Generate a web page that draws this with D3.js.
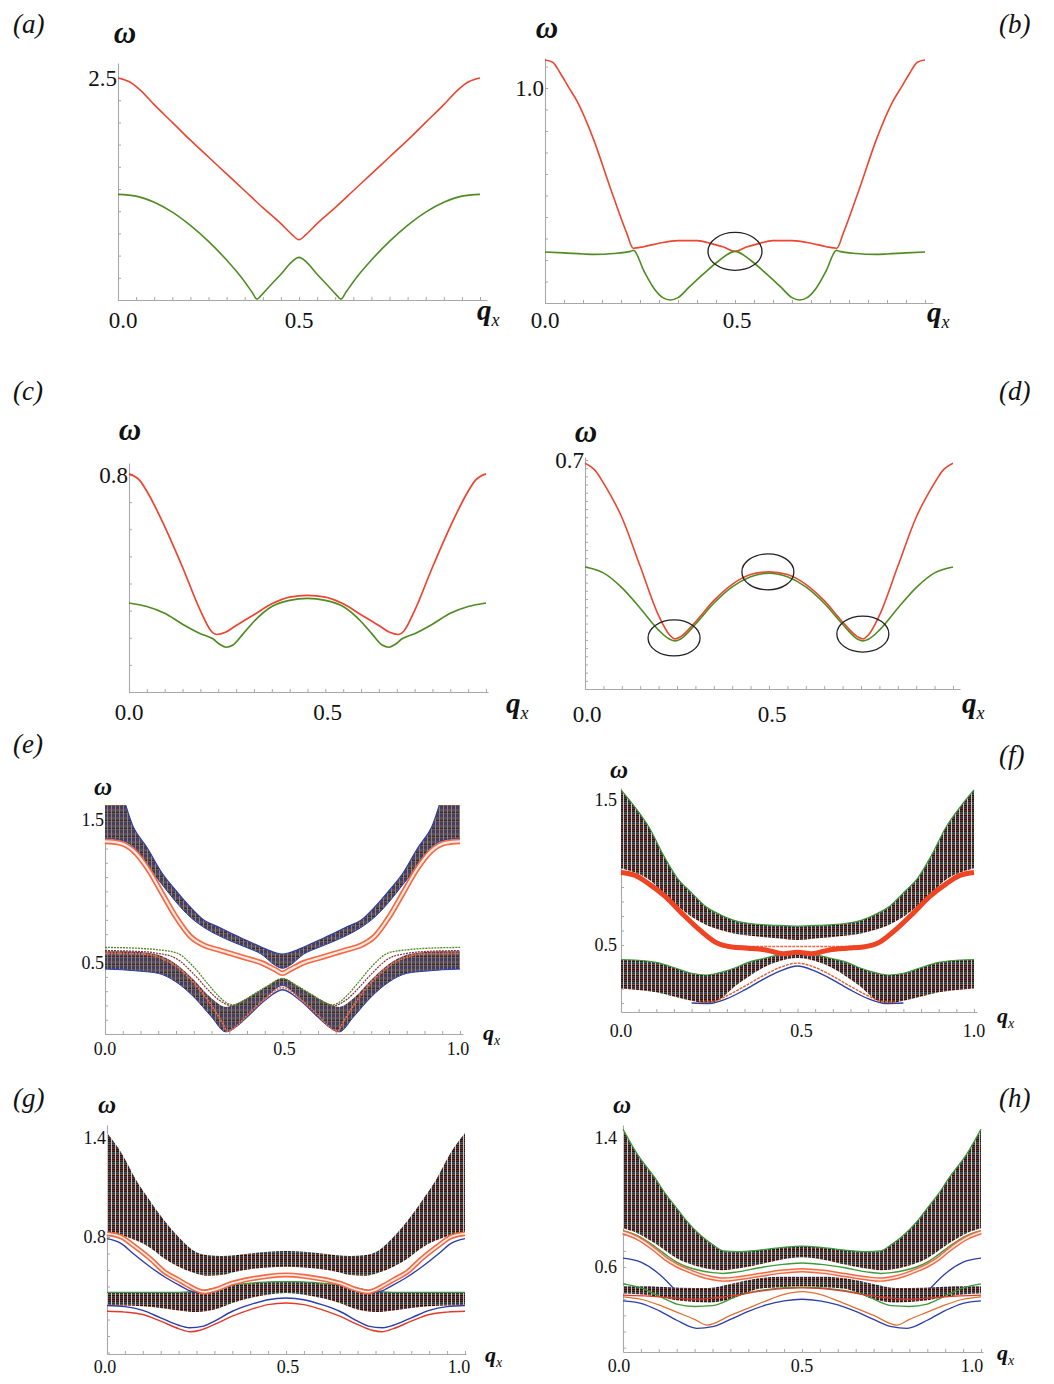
<!DOCTYPE html>
<html>
<head>
<meta charset="utf-8">
<script src="https://cdn.jsdelivr.net/npm/d3@7"></script>
<style>
  body { margin: 0; background: #fff; }
  svg text { font-family: "Liberation Serif", "DejaVu Serif", serif; fill: #111; }
</style>
</head>
<body>
<svg id="fig" width="1054" height="1384"></svg>
<script>
// ---------- panel (a) ----------
var aRed = [[0,2.5],[0.03,2.46],[0.06,2.37],[0.1,2.2],[0.15,2.0],[0.2,1.8],[0.25,1.61],[0.3,1.42],[0.35,1.23],[0.4,1.04],[0.45,0.86],[0.48,0.74],[0.5,0.68],
            [0.52,0.74],[0.55,0.86],[0.6,1.04],[0.65,1.23],[0.7,1.42],[0.75,1.61],[0.8,1.8],[0.85,2.0],[0.9,2.2],[0.94,2.37],[0.97,2.46],[1,2.5]];
var aGreen = [[0,1.19],[0.05,1.17],[0.1,1.1],[0.15,0.99],[0.2,0.84],[0.25,0.66],[0.3,0.45],[0.34,0.26],[0.37,0.09],[0.384,0.01],[0.395,0.05],[0.42,0.16],[0.45,0.29],[0.48,0.43],[0.5,0.48],
              [0.52,0.43],[0.55,0.29],[0.58,0.16],[0.605,0.05],[0.616,0.01],[0.63,0.09],[0.66,0.26],[0.7,0.45],[0.75,0.66],[0.8,0.84],[0.85,0.99],[0.9,1.1],[0.95,1.17],[1,1.19]];

// ---------- panel (b) ----------
var bRed = [[0,1.13],[0.02,1.12],[0.04,1.07],[0.06,1.01],[0.084,0.94],[0.128,0.76],[0.171,0.54],[0.215,0.325],[0.232,0.255],[0.26,0.262],[0.3,0.278],[0.35,0.29],[0.4,0.29],[0.44,0.275],[0.47,0.26],[0.5,0.24],
            [0.53,0.26],[0.56,0.275],[0.6,0.29],[0.65,0.29],[0.7,0.278],[0.74,0.262],[0.768,0.255],[0.785,0.325],[0.829,0.54],[0.872,0.76],[0.916,0.94],[0.94,1.01],[0.96,1.07],[0.98,1.12],[1,1.13]];
var bGreen = [[0,0.237],[0.05,0.233],[0.1,0.228],[0.13,0.226],[0.18,0.23],[0.225,0.24],[0.233,0.245],[0.26,0.15],[0.286,0.07],[0.31,0.025],[0.33,0.014],[0.35,0.025],[0.38,0.075],[0.42,0.14],[0.46,0.2],[0.5,0.24],
              [0.54,0.2],[0.58,0.14],[0.62,0.075],[0.65,0.025],[0.67,0.014],[0.69,0.025],[0.714,0.07],[0.74,0.15],[0.767,0.245],[0.775,0.24],[0.82,0.23],[0.87,0.226],[0.9,0.228],[0.95,0.233],[1,0.237]];
var bCircles = [[0.5,0.24]];

// ---------- panel (c) ----------
var cRed = [[0,0.804],[0.03,0.78],[0.05,0.74],[0.1,0.61],[0.15,0.46],[0.2,0.3],[0.23,0.225],[0.246,0.212],[0.27,0.22],[0.3,0.245],[0.35,0.285],[0.4,0.325],[0.45,0.35],[0.5,0.356],
            [0.55,0.35],[0.6,0.325],[0.65,0.285],[0.7,0.245],[0.73,0.22],[0.754,0.212],[0.77,0.225],[0.8,0.3],[0.85,0.46],[0.9,0.61],[0.95,0.74],[0.97,0.78],[1,0.804]];
var cGreen = [[0,0.328],[0.05,0.315],[0.1,0.29],[0.15,0.25],[0.2,0.215],[0.235,0.196],[0.255,0.175],[0.272,0.165],[0.29,0.172],[0.32,0.215],[0.35,0.26],[0.4,0.315],[0.45,0.338],[0.5,0.345],
              [0.55,0.338],[0.6,0.315],[0.65,0.26],[0.68,0.215],[0.71,0.172],[0.728,0.165],[0.745,0.175],[0.765,0.196],[0.8,0.215],[0.85,0.25],[0.9,0.29],[0.95,0.315],[1,0.328]];

// ---------- panel (d) ----------
var dRed = [[0,0.69],[0.03,0.665],[0.05,0.63],[0.1,0.525],[0.15,0.375],[0.2,0.225],[0.23,0.165],[0.245,0.153],[0.26,0.16],[0.3,0.205],[0.35,0.27],[0.4,0.32],[0.45,0.35],[0.5,0.358],
            [0.55,0.35],[0.6,0.32],[0.65,0.27],[0.7,0.205],[0.74,0.16],[0.755,0.153],[0.77,0.165],[0.8,0.225],[0.85,0.375],[0.9,0.525],[0.95,0.63],[0.97,0.665],[1,0.69]];
var dGreen = [[0,0.373],[0.05,0.355],[0.1,0.31],[0.15,0.247],[0.2,0.18],[0.23,0.152],[0.245,0.147],[0.26,0.153],[0.3,0.198],[0.35,0.262],[0.4,0.312],[0.45,0.343],[0.5,0.354],
              [0.55,0.343],[0.6,0.312],[0.65,0.262],[0.7,0.198],[0.74,0.153],[0.755,0.147],[0.77,0.152],[0.8,0.18],[0.85,0.247],[0.9,0.31],[0.95,0.355],[1,0.373]];
var dCircles = [[0.242,0.156],[0.497,0.358],[0.755,0.168]];

// ---------- panel (e) ----------
var eUpQ   = [0,0.04,0.08,0.12,0.16,0.2,0.24,0.28,0.32,0.36,0.4,0.44,0.48,0.5,0.52,0.56,0.6,0.64,0.68,0.72,0.76,0.8,0.84,0.88,0.92,0.96,1];
var eUpTop = [1.8,1.72,1.45,1.3,1.13,1.005,0.89,0.795,0.75,0.7,0.655,0.61,0.57,0.56,0.57,0.61,0.655,0.7,0.75,0.795,0.89,1.005,1.13,1.3,1.45,1.72,1.8];
var eUpBot = [1.37,1.36,1.31,1.175,1.05,0.925,0.82,0.745,0.69,0.645,0.605,0.56,0.48,0.46,0.48,0.56,0.605,0.645,0.69,0.745,0.82,0.925,1.05,1.175,1.31,1.36,1.37];
var eOrangeUp = [1.35,1.34,1.285,1.16,0.99,0.82,0.685,0.62,0.59,0.56,0.53,0.5,0.45,0.425,0.45,0.5,0.53,0.56,0.59,0.62,0.685,0.82,0.99,1.16,1.285,1.34,1.35];
var eLoQ   = [0,0.05,0.1,0.15,0.2,0.25,0.3,0.34,0.38,0.42,0.46,0.5,0.54,0.58,0.62,0.66,0.7,0.75,0.8,0.85,0.9,0.95,1];
var eLoTop = [0.58,0.58,0.575,0.555,0.49,0.38,0.25,0.19,0.225,0.28,0.34,0.39,0.34,0.28,0.225,0.19,0.25,0.38,0.49,0.555,0.575,0.58,0.58];
var eLoBot = [0.455,0.45,0.44,0.425,0.365,0.26,0.12,0.015,0.07,0.17,0.27,0.34,0.27,0.17,0.07,0.015,0.12,0.26,0.365,0.425,0.44,0.45,0.455];
var eGreen = [[0,0.607],[0.1,0.6],[0.15,0.59],[0.2,0.57],[0.25,0.47],[0.29,0.35],[0.32,0.265],[0.345,0.215],[0.36,0.205],[0.42,0.28],[0.46,0.34],[0.5,0.39],
              [0.54,0.34],[0.58,0.28],[0.64,0.205],[0.655,0.215],[0.68,0.265],[0.71,0.35],[0.75,0.47],[0.8,0.57],[0.85,0.59],[0.9,0.6],[1,0.607]];
var eDarkRed = [[0,0.585],[0.1,0.578],[0.15,0.565],[0.2,0.53],[0.25,0.42],[0.29,0.31],[0.32,0.24],[0.35,0.2],[0.36,0.195],[0.5,null],
                [0.64,0.195],[0.65,0.2],[0.68,0.24],[0.71,0.31],[0.75,0.42],[0.8,0.53],[0.85,0.565],[0.9,0.578],[1,0.585]];
var eOrangeLo = [[0,0.565],[0.1,0.562],[0.15,0.54],[0.2,0.475],[0.25,0.36],[0.3,0.2],[0.33,0.08],[0.345,0.02],[0.37,0.055],[0.4,0.13],[0.45,0.245],[0.5,0.325],
                 [0.55,0.245],[0.6,0.13],[0.63,0.055],[0.655,0.02],[0.67,0.08],[0.7,0.2],[0.75,0.36],[0.8,0.475],[0.85,0.54],[0.9,0.562],[1,0.565]];
var eBlue = [[0.36,0.04],[0.4,0.12],[0.45,0.235],[0.5,0.31],[0.55,0.235],[0.6,0.12],[0.64,0.04]];

// ---------- panel (f) ----------
var fUpQ   = [0,0.04,0.08,0.12,0.16,0.2,0.24,0.28,0.32,0.36,0.4,0.45,0.5,0.55,0.6,0.64,0.68,0.72,0.76,0.8,0.84,0.88,0.92,0.96,1];
var fUpTop = [1.57,1.45,1.31,1.12,0.96,0.86,0.765,0.71,0.67,0.65,0.64,0.635,0.63,0.635,0.64,0.65,0.67,0.71,0.765,0.86,0.96,1.12,1.31,1.45,1.57];
var fUpBot = [1.03,1.0,0.95,0.86,0.77,0.695,0.64,0.605,0.58,0.565,0.555,0.545,0.535,0.545,0.555,0.565,0.58,0.605,0.64,0.695,0.77,0.86,0.95,1.0,1.03];
var fRed = [[0,1.0],[0.04,0.98],[0.077,0.925],[0.125,0.835],[0.172,0.72],[0.22,0.61],[0.267,0.52],[0.314,0.486],[0.36,0.478],[0.41,0.466],[0.46,0.44],[0.5,0.45],
            [0.54,0.44],[0.59,0.466],[0.64,0.478],[0.686,0.486],[0.733,0.52],[0.78,0.61],[0.828,0.72],[0.875,0.835],[0.923,0.925],[0.96,0.98],[1,1.0]];
var fDash = [[0.27,0.505],[0.32,0.492],[0.4,0.49],[0.5,0.49],[0.6,0.49],[0.68,0.492],[0.73,0.505]];
var fLoQ   = [0,0.05,0.1,0.15,0.2,0.24,0.28,0.32,0.36,0.4,0.45,0.5,0.55,0.6,0.64,0.68,0.72,0.76,0.8,0.85,0.9,0.95,1];
var fLoTop = [0.4,0.395,0.38,0.345,0.305,0.293,0.31,0.34,0.38,0.405,0.43,0.435,0.43,0.405,0.38,0.34,0.31,0.293,0.305,0.345,0.38,0.395,0.4];
var fLoBot = [0.2,0.19,0.175,0.145,0.115,0.098,0.125,0.21,0.28,0.34,0.39,0.41,0.39,0.34,0.28,0.21,0.125,0.098,0.115,0.145,0.175,0.19,0.2];
var fBlue = [[0.2,0.1],[0.25,0.097],[0.3,0.13],[0.35,0.19],[0.4,0.26],[0.45,0.32],[0.5,0.355],[0.55,0.32],[0.6,0.26],[0.65,0.19],[0.7,0.13],[0.75,0.097],[0.8,0.1]];
var fOrange = [[0.22,0.105],[0.26,0.11],[0.3,0.15],[0.35,0.215],[0.4,0.285],[0.45,0.345],[0.5,0.375],[0.55,0.345],[0.6,0.285],[0.65,0.215],[0.7,0.15],[0.74,0.11],[0.78,0.105]];

// ---------- panel (g) ----------
var gUpQ   = [0,0.04,0.08,0.12,0.16,0.2,0.24,0.28,0.32,0.36,0.4,0.45,0.5,0.55,0.6,0.64,0.68,0.72,0.76,0.8,0.84,0.88,0.92,0.96,1];
var gUpTop = [1.43,1.31,1.15,1.02,0.9,0.8,0.72,0.69,0.685,0.69,0.7,0.71,0.715,0.71,0.7,0.69,0.685,0.69,0.72,0.8,0.9,1.02,1.15,1.31,1.43];
var gUpBot = [0.83,0.81,0.78,0.735,0.67,0.62,0.585,0.565,0.57,0.59,0.605,0.615,0.62,0.615,0.605,0.59,0.57,0.565,0.585,0.62,0.67,0.735,0.78,0.81,0.83];
var gOrange = [[0,0.82],[0.04,0.8],[0.073,0.75],[0.12,0.67],[0.16,0.59],[0.2,0.54],[0.224,0.51],[0.25,0.48],[0.27,0.467],[0.3,0.48],[0.35,0.52],[0.4,0.545],[0.45,0.562],[0.5,0.57],
               [0.55,0.562],[0.6,0.545],[0.65,0.52],[0.7,0.48],[0.73,0.467],[0.75,0.48],[0.776,0.51],[0.8,0.54],[0.84,0.59],[0.88,0.67],[0.927,0.75],[0.96,0.8],[1,0.82]];
var gBlueUp = [[0,0.79],[0.04,0.76],[0.073,0.7],[0.12,0.62],[0.167,0.55],[0.2,0.51],[0.24,0.468],[0.27,0.462],[0.5,null],
               [0.73,0.462],[0.76,0.468],[0.8,0.51],[0.833,0.55],[0.88,0.62],[0.927,0.7],[0.96,0.76],[1,0.79]];
var gLoQ   = [0,0.05,0.1,0.15,0.2,0.25,0.3,0.35,0.4,0.45,0.5,0.55,0.6,0.65,0.7,0.75,0.8,0.85,0.9,0.95,1];
var gLoTop = [0.465,0.465,0.465,0.465,0.465,0.47,0.49,0.51,0.52,0.528,0.53,0.528,0.52,0.51,0.49,0.47,0.465,0.465,0.465,0.465,0.465];
var gLoBot = [0.39,0.385,0.38,0.37,0.355,0.345,0.36,0.4,0.43,0.45,0.46,0.45,0.43,0.4,0.36,0.345,0.355,0.37,0.38,0.385,0.39];
var gBlueLo = [[0,0.385],[0.05,0.378],[0.1,0.355],[0.15,0.31],[0.2,0.265],[0.23,0.25],[0.27,0.26],[0.3,0.29],[0.35,0.35],[0.4,0.39],[0.45,0.42],[0.5,0.43],
               [0.55,0.42],[0.6,0.39],[0.65,0.35],[0.7,0.29],[0.73,0.26],[0.77,0.25],[0.8,0.265],[0.85,0.31],[0.9,0.355],[0.95,0.378],[1,0.385]];
var gRedLo = [[0,0.35],[0.05,0.345],[0.1,0.33],[0.15,0.29],[0.2,0.245],[0.232,0.226],[0.26,0.235],[0.3,0.27],[0.35,0.32],[0.4,0.36],[0.45,0.39],[0.5,0.4],
              [0.55,0.39],[0.6,0.36],[0.65,0.32],[0.7,0.27],[0.74,0.235],[0.768,0.226],[0.8,0.245],[0.85,0.29],[0.9,0.33],[0.95,0.345],[1,0.35]];

// ---------- panel (h) ----------
var hUpQ   = [0,0.04,0.087,0.12,0.15,0.18,0.215,0.25,0.28,0.32,0.38,0.44,0.5,0.56,0.62,0.68,0.72,0.75,0.785,0.82,0.85,0.88,0.913,0.96,1];
var hUpTop = [1.455,1.3,1.16,1.05,0.965,0.88,0.8,0.74,0.7,0.695,0.705,0.72,0.73,0.72,0.705,0.695,0.7,0.74,0.8,0.88,0.965,1.05,1.16,1.3,1.455];
var hUpBot = [0.84,0.81,0.75,0.7,0.655,0.625,0.6,0.585,0.58,0.59,0.615,0.645,0.66,0.645,0.615,0.59,0.58,0.585,0.6,0.625,0.655,0.7,0.75,0.81,0.84];
var hGreenUp = [0.825,0.795,0.73,0.675,0.63,0.6,0.578,0.565,0.56,0.57,0.595,0.615,0.625,0.615,0.595,0.57,0.56,0.565,0.578,0.6,0.63,0.675,0.73,0.795,0.825];
var hOrange  = [0.815,0.78,0.71,0.65,0.61,0.58,0.55,0.53,0.522,0.53,0.55,0.57,0.58,0.57,0.55,0.53,0.522,0.53,0.55,0.58,0.61,0.65,0.71,0.78,0.815];
var hBlueUp = [[0,0.655],[0.05,0.63],[0.104,0.55],[0.141,0.468],[0.5,null],[0.859,0.468],[0.896,0.55],[0.95,0.63],[1,0.655]];
var hLoQ   = [0,0.05,0.1,0.16,0.24,0.3,0.38,0.44,0.5,0.56,0.62,0.7,0.76,0.84,0.9,0.95,1];
var hLoTop = [0.48,0.48,0.478,0.472,0.47,0.495,0.53,0.54,0.54,0.54,0.53,0.495,0.47,0.472,0.478,0.48,0.48];
var hLoBot = [0.435,0.43,0.415,0.39,0.38,0.4,0.465,0.475,0.48,0.475,0.465,0.4,0.38,0.39,0.415,0.43,0.435];
var hGreenLo = [[0,0.495],[0.05,0.47],[0.1,0.42],[0.15,0.37],[0.2,0.355],[0.25,0.36],[0.33,0.43],[0.4,0.46],[0.5,0.475],
                [0.6,0.46],[0.67,0.43],[0.75,0.36],[0.8,0.355],[0.85,0.37],[0.9,0.42],[0.95,0.47],[1,0.495]];
var hOrangeLo = [[0,0.415],[0.05,0.4],[0.1,0.365],[0.15,0.32],[0.2,0.275],[0.235,0.24],[0.3,0.3],[0.35,0.345],[0.4,0.39],[0.45,0.43],[0.5,0.447],
                 [0.55,0.43],[0.6,0.39],[0.65,0.345],[0.7,0.3],[0.765,0.24],[0.8,0.275],[0.85,0.32],[0.9,0.365],[0.95,0.4],[1,0.415]];
var hBlueLo = [[0,0.39],[0.05,0.375],[0.1,0.33],[0.15,0.27],[0.206,0.22],[0.25,0.23],[0.3,0.275],[0.35,0.325],[0.4,0.365],[0.45,0.39],[0.5,0.4],
               [0.55,0.39],[0.6,0.365],[0.65,0.325],[0.7,0.275],[0.75,0.23],[0.794,0.22],[0.85,0.27],[0.9,0.33],[0.95,0.375],[1,0.39]];
var hRedLo = [[0,0.425],[0.1,0.415],[0.2,0.4],[0.3,0.42],[0.4,0.455],[0.5,0.47],[0.6,0.455],[0.7,0.42],[0.8,0.4],[0.9,0.415],[1,0.425]];

// ---------- colours ----------
var RED = "#ec4530", GREEN = "#4f8c22", ORANGE = "#f26a43", BLUE = "#2c3fa8", DKRED = "#8a2a3a";

var svg = d3.select("#fig");
var defs = svg.append("defs");

// dense band look: thin horizontal coloured rows split by light column gaps
function addPattern(id, w, cols, rows, gapColor) {
    var h = rows.length;
    var p = defs.append("pattern").attr("id", id)
        .attr("patternUnits", "userSpaceOnUse").attr("width", w).attr("height", h);
    p.append("rect").attr("width", w).attr("height", h).attr("fill", gapColor);
    rows.forEach(function (c, r) {
        p.append("rect").attr("x", 0).attr("y", r).attr("width", cols).attr("height", 1).attr("fill", c);
    });
}
addPattern("bandE", 4, 3, ["#3c4078", "#6e4a3c", "#48603e", "#5a3e5a", "#2e2c3a", "#80543a", "#363f72", "#4c4038"], "#8a8090");
addPattern("bandK", 4, 3, ["#6a2e24", "#1e1e1e", "#3c6434", "#2a2c68", "#9a4428", "#161616", "#52402c", "#242448", "#7a2c22", "#1a1a1a"], "#cfc8c8");

function bandData(q, top, bot) {
    return q.map(function (v, i) { return { q: v, hi: top[i], lo: bot[i] }; });
}
function zip(q, vals) {
    return q.map(function (v, i) { return [v, vals[i]]; });
}

function drawPanel(p) {
    var g = svg.append("g");
    var x = d3.scaleLinear().domain([0, 1]).range([p.x0, p.x1]);
    var y = d3.scaleLinear().domain([p.yRef[0][0], p.yRef[1][0]]).range([p.yRef[0][1], p.yRef[1][1]]);
    var xEnd = x.invert(p.axisX1);
    var yLo = y.invert(p.axisY), yHi = y.invert(p.topY);

    // axes (Mathematica style: light grey, inward ticks)
    var xa = d3.scaleLinear().domain([0, xEnd]).range([p.x0, p.axisX1]);
    var xt = d3.range(Math.floor(xEnd / 0.05 + 1e-6) + 1).map(function (i) { return +(i * 0.05).toFixed(3); });
    var gx = g.append("g").attr("transform", "translate(0," + p.axisY + ")")
        .call(d3.axisBottom(xa).tickValues(xt).tickSize(-3).tickSizeOuter(0).tickFormat(""));
    var ya = d3.scaleLinear().domain([yLo, yHi]).range([p.axisY, p.topY]);
    var s = p.yStep, y0 = Math.ceil(yLo / s - 1e-6);
    var yt = d3.range(Math.floor(yHi / s + 1e-6) - y0 + 1).map(function (i) { return +((y0 + i) * s).toFixed(4); });
    var gy = g.append("g").attr("transform", "translate(" + p.x0 + ",0)")
        .call(d3.axisLeft(ya).tickValues(yt).tickSize(-3).tickSizeOuter(0).tickFormat(""));
    [gx, gy].forEach(function (a) {
        a.select(".domain").attr("stroke", "#a8a8a8").attr("stroke-width", 1.1);
        a.selectAll(".tick line").attr("stroke", "#a8a8a8");
    });

    defs.append("clipPath").attr("id", "clip-" + p.id).append("rect")
        .attr("x", p.x0 - 4).attr("y", p.topY)
        .attr("width", p.axisX1 - p.x0 + 8).attr("height", p.axisY - p.topY + 3);
    var plot = g.append("g").attr("clip-path", "url(#clip-" + p.id + ")");

    var curve = d3.curveMonotoneX;
    var area = d3.area().x(function (d) { return x(d.q); })
        .y0(function (d) { return y(d.lo); }).y1(function (d) { return y(d.hi); }).curve(curve);
    var line = d3.line().defined(function (d) { return d[1] != null; })
        .x(function (d) { return x(d[0]); }).y(function (d) { return y(d[1]); }).curve(curve);

    (p.bands || []).forEach(function (b) {
        plot.append("path").datum(b.data).attr("d", area).attr("fill", "url(#" + b.fill + ")");
        if (b.topEdge) plot.append("path").datum(b.data.map(function (d) { return [d.q, d.hi]; }))
            .attr("d", line).attr("fill", "none").attr("stroke", b.topEdge).attr("stroke-width", 1.2);
        if (b.botEdge) plot.append("path").datum(b.data.map(function (d) { return [d.q, d.lo]; }))
            .attr("d", line).attr("fill", "none").attr("stroke", b.botEdge).attr("stroke-width", 1);
    });

    (p.lines || []).forEach(function (l) {
        if (l.tube) {
            plot.append("path").datum(l.data).attr("d", line).attr("fill", "none")
                .attr("stroke", l.color).attr("stroke-width", l.width);
            plot.append("path").datum(l.data).attr("d", line).attr("fill", "none")
                .attr("stroke", "#fff").attr("stroke-width", l.core).attr("opacity", 0.85);
        } else {
            plot.append("path").datum(l.data).attr("d", line).attr("fill", "none")
                .attr("stroke", l.color).attr("stroke-width", l.width)
                .attr("stroke-dasharray", l.dash || null);
        }
    });

    (p.circles || []).forEach(function (c) {
        g.append("ellipse").attr("cx", x(c[0])).attr("cy", y(c[1]))
            .attr("rx", p.ellipse[0]).attr("ry", p.ellipse[1])
            .attr("fill", "none").attr("stroke", "#222").attr("stroke-width", 1.3);
    });

    // texts
    var big = p.big;
    p.yLabels.forEach(function (t) {
        g.append("text").attr("x", p.x0 - 1 + (t.dx || 0)).attr("y", y(t.v) + (big ? 8 : 6))
            .attr("text-anchor", "end").attr("font-size", big ? 23 : 18).text(t.text);
    });
    p.xLabels.forEach(function (t) {
        g.append("text").attr("x", x(t.v) + (t.dx || 0)).attr("y", p.xLabelY)
            .attr("text-anchor", "middle").attr("font-size", big ? 23 : 18).text(t.text);
    });
    g.append("text").attr("x", p.om[0]).attr("y", p.om[1]).attr("text-anchor", "middle")
        .attr("font-size", big ? 31 : 25).attr("font-weight", "bold").attr("font-style", "italic").text("ω");
    var qt = g.append("text").attr("x", p.qx[0]).attr("y", p.qx[1]).attr("font-style", "italic");
    qt.append("tspan").attr("font-size", big ? 29 : 22).attr("font-weight", "bold").text("q");
    qt.append("tspan").attr("font-size", big ? 18 : 14).attr("dy", big ? 6 : 5).text("x");
    g.append("text").attr("x", p.tag[0]).attr("y", p.tag[1]).attr("font-size", 27)
        .attr("font-style", "italic").text(p.label);
}

var panels = [
    { id: "a", label: "(a)", big: true, x0: 118, x1: 480, axisX1: 487, axisY: 300, topY: 63,
      yRef: [[0, 300], [2.5, 78]], yStep: 0.25,
      yLabels: [{ v: 2.5, text: "2.5" }], xLabels: [{ v: 0, text: "0.0", dx: 5 }, { v: 0.5, text: "0.5" }], xLabelY: 328,
      om: [125, 43], qx: [477, 320], tag: [13, 33],
      lines: [{ data: aRed, color: RED, width: 1.6 }, { data: aGreen, color: GREEN, width: 1.6 }] },
    { id: "b", label: "(b)", big: true, x0: 545, x1: 925, axisX1: 933, axisY: 303, topY: 58,
      yRef: [[0, 303], [1.0, 88]], yStep: 0.1,
      yLabels: [{ v: 1.0, text: "1.0" }], xLabels: [{ v: 0, text: "0.0" }, { v: 0.5, text: "0.5", dx: 2 }], xLabelY: 328,
      om: [547, 38], qx: [927, 322], tag: [999, 33],
      lines: [{ data: bRed, color: RED, width: 1.6 }, { data: bGreen, color: GREEN, width: 1.6 }],
      circles: bCircles, ellipse: [27, 19] },
    { id: "c", label: "(c)", big: true, x0: 129, x1: 486, axisX1: 488, axisY: 692, topY: 463,
      yRef: [[0, 692], [0.8, 475]], yStep: 0.1,
      yLabels: [{ v: 0.8, text: "0.8" }], xLabels: [{ v: 0, text: "0.0" }, { v: 0.5, text: "0.5", dx: 20 }], xLabelY: 720,
      om: [130, 440], qx: [506, 713], tag: [13, 400],
      lines: [{ data: cRed, color: RED, width: 1.7 }, { data: cGreen, color: GREEN, width: 1.7 }] },
    { id: "d", label: "(d)", big: true, x0: 585, x1: 953, axisX1: 960, axisY: 689, topY: 457,
      yRef: [[0, 689], [0.7, 460]], yStep: 0.025,
      yLabels: [{ v: 0.7, text: "0.7" }], xLabels: [{ v: 0, text: "0.0", dx: 2 }, { v: 0.5, text: "0.5", dx: 3 }], xLabelY: 722,
      om: [586, 442], qx: [962, 713], tag: [999, 400],
      lines: [{ data: dRed, color: RED, width: 1.6 }, { data: dGreen, color: GREEN, width: 1.6 }],
      circles: dCircles, ellipse: [26, 18] },
    { id: "e", label: "(e)", big: false, x0: 105, x1: 460, axisX1: 463, axisY: 1034, topY: 805,
      yRef: [[0, 1034], [1.5, 820]], yStep: 0.1,
      yLabels: [{ v: 1.5, text: "1.5" }, { v: 0.5, text: "0.5" }],
      xLabels: [{ v: 0, text: "0.0" }, { v: 0.5, text: "0.5", dx: 2 }, { v: 1, text: "1.0", dx: -2 }], xLabelY: 1055,
      om: [103, 795], qx: [483, 1040], tag: [13, 753],
      bands: [{ data: bandData(eUpQ, eUpTop, eUpBot), fill: "bandE", botEdge: BLUE, topEdge: BLUE },
              { data: bandData(eLoQ, eLoTop, eLoBot), fill: "bandE", botEdge: BLUE }],
      lines: [{ data: eGreen, color: GREEN, width: 1.3, dash: "2 1" },
              { data: eDarkRed, color: DKRED, width: 1.2, dash: "2 1" },
              { data: eBlue, color: BLUE, width: 1.3 },
              { data: eOrangeLo, color: ORANGE, width: 1.8, dash: "2 1" },
              { data: zip(eUpQ, eOrangeUp), color: ORANGE, width: 5.5, tube: true, core: 2.2 }] },
    { id: "f", label: "(f)", big: false, x0: 621, x1: 974, axisX1: 977, axisY: 1012, topY: 788,
      yRef: [[0.5, 945], [1.5, 800]], yStep: 0.1,
      yLabels: [{ v: 1.5, text: "1.5", dx: -3 }, { v: 0.5, text: "0.5", dx: -3 }],
      xLabels: [{ v: 0, text: "0.0" }, { v: 0.5, text: "0.5", dx: 4 }, { v: 1, text: "1.0" }], xLabelY: 1037,
      om: [619, 778], qx: [997, 1023], tag: [999, 764],
      bands: [{ data: bandData(fUpQ, fUpTop, fUpBot), fill: "bandK", topEdge: "#3f9a3a" },
              { data: bandData(fLoQ, fLoTop, fLoBot), fill: "bandK", topEdge: "#3f9a3a" }],
      lines: [{ data: fDash, color: ORANGE, width: 1.4, dash: "3 1" },
              { data: fBlue, color: BLUE, width: 1.4 },
              { data: fOrange, color: "#e0602e", width: 1.4, dash: "3 1" },
              { data: fRed, color: "#ee4424", width: 5 }] },
    { id: "g", label: "(g)", big: false, x0: 107, x1: 465, axisX1: 466, axisY: 1354, topY: 1125,
      yRef: [[0.8, 1237], [1.4, 1138]], yStep: 0.1,
      yLabels: [{ v: 1.4, text: "1.4" }, { v: 0.8, text: "0.8" }],
      xLabels: [{ v: 0, text: "0.0", dx: -2 }, { v: 0.5, text: "0.5", dx: 2 }, { v: 1, text: "1.0", dx: -6 }], xLabelY: 1373,
      om: [107, 1113], qx: [485, 1362], tag: [13, 1107],
      bands: [{ data: bandData(gUpQ, gUpTop, gUpBot), fill: "bandK" },
              { data: bandData(gLoQ, gLoTop, gLoBot), fill: "bandK", topEdge: "#3f9a3a" }],
      lines: [{ data: gBlueUp, color: BLUE, width: 1.4 },
              { data: gBlueLo, color: BLUE, width: 1.4 },
              { data: gRedLo, color: "#e23a2a", width: 1.4 },
              { data: gOrange, color: ORANGE, width: 5, tube: true, core: 1.8 }] },
    { id: "h", label: "(h)", big: false, x0: 623, x1: 981, axisX1: 983, axisY: 1352, topY: 1125,
      yRef: [[0.6, 1267], [1.4, 1138]], yStep: 0.1,
      yLabels: [{ v: 1.4, text: "1.4", dx: -5 }, { v: 0.6, text: "0.6", dx: -5 }],
      xLabels: [{ v: 0, text: "0.0", dx: -4 }, { v: 0.5, text: "0.5" }, { v: 1, text: "1.0", dx: -9 }], xLabelY: 1372,
      om: [622, 1113], qx: [997, 1360], tag: [999, 1107],
      bands: [{ data: bandData(hUpQ, hUpTop, hUpBot), fill: "bandK", topEdge: "#3f9a3a" },
              { data: bandData(hLoQ, hLoTop, hLoBot), fill: "bandK" }],
      lines: [{ data: zip(hUpQ, hGreenUp), color: "#3f9a3a", width: 1.4 },
              { data: hBlueUp, color: BLUE, width: 1.3 },
              { data: hGreenLo, color: "#3f9a3a", width: 1.3 },
              { data: hRedLo, color: "#e23a2a", width: 1.2 },
              { data: hOrangeLo, color: "#e0702e", width: 1.2 },
              { data: hBlueLo, color: BLUE, width: 1.3 },
              { data: zip(hUpQ, hOrange), color: ORANGE, width: 4.5, tube: true, core: 1.6 }] }
];

panels.forEach(drawPanel);
</script>
</body>
</html>
